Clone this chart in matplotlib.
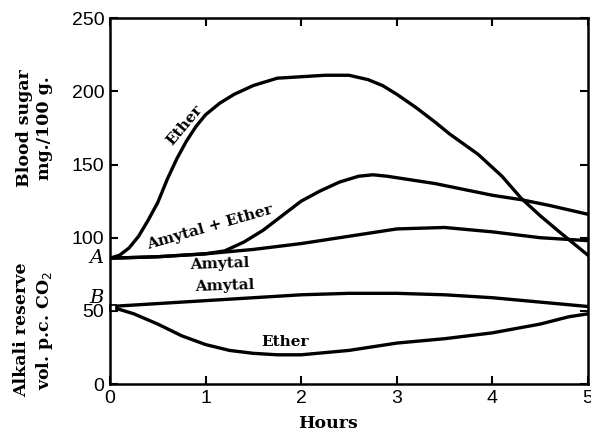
import matplotlib.pyplot as plt

# blood sugar curves (mg./100 g.)
ether_x = [0, 0.1, 0.2, 0.3, 0.4, 0.5, 0.6, 0.7, 0.8, 0.9, 1.0, 1.15, 1.3, 1.5, 1.75, 2.0, 2.25, 2.5, 2.7, 2.85, 3.0, 3.2, 3.4, 3.55, 3.7, 3.85, 4.1, 4.3, 4.5, 4.7, 4.85, 5.0]
ether_y = [86, 88, 93, 101, 112, 124, 140, 154, 166, 176, 184, 192, 198, 204, 209, 210, 211, 211, 208, 204, 198, 189, 179, 171, 164, 157, 142, 127, 115, 104, 96, 88]

amyeth_x = [0, 0.5, 1.0, 1.2, 1.4, 1.6, 1.8, 2.0, 2.2, 2.4, 2.6, 2.75, 2.9, 3.1, 3.4, 3.7, 4.0, 4.3, 4.6, 5.0]
amyeth_y = [86, 87, 89, 91, 97, 105, 115, 125, 132, 138, 142, 143, 142, 140, 137, 133, 129, 126, 122, 116]

amytal_x = [0, 0.5, 1.0, 1.5, 2.0, 2.5, 3.0, 3.5, 4.0, 4.5, 5.0]
amytal_y = [86, 87, 89, 92, 96, 101, 106, 107, 104, 100, 98]

# alkali reserve curves (vol. p.c. CO2)
alk_amytal_x = [0, 0.5, 1.0, 1.5, 2.0, 2.5, 3.0, 3.5, 4.0, 4.5, 5.0]
alk_amytal_y = [53, 55, 57, 59, 61, 62, 62, 61, 59, 56, 53]

alk_ether_x = [0, 0.25, 0.5, 0.75, 1.0, 1.25, 1.5, 1.75, 2.0, 2.5, 3.0, 3.5, 4.0, 4.5, 4.8, 5.0]
alk_ether_y = [53, 48, 41, 33, 27, 23, 21, 20, 20, 23, 28, 31, 35, 41, 46, 48]

serif = 'DejaVu Serif'

fig = plt.figure(figsize=(5.91, 4.33), dpi=100)
ax = fig.add_axes([0.186, 0.113, 0.809, 0.845])

lw = 2.4
for xs, ys in [(ether_x, ether_y), (amyeth_x, amyeth_y), (amytal_x, amytal_y),
               (alk_amytal_x, alk_amytal_y), (alk_ether_x, alk_ether_y)]:
    ax.plot(xs, ys, color='black', lw=lw, solid_capstyle='round', solid_joinstyle='round')

ax.plot([0.03], [52], marker='s', ms=4, mfc='white', mec='black', mew=1.2, clip_on=False)

ax.set_xlim(0, 5)
ax.set_ylim(0, 250)
ax.set_xticks(range(6))
ax.set_yticks(range(0, 251, 50))
ax.tick_params(direction='in', length=6, width=1.5, labelsize=14, top=True, right=True, pad=4)
for lab in ax.get_xticklabels() + ax.get_yticklabels():
    lab.set_family('Liberation Sans')
for s in ax.spines.values():
    s.set_linewidth(1.8)

# curve labels
tk = dict(family=serif, weight='bold', fontsize=11, ha='center', va='center', rotation_mode='anchor')
ax.text(0.78, 177, 'Ether', rotation=50, **tk)
ax.text(1.05, 107, 'Amytal + Ether', rotation=16, **tk)
ax.text(1.15, 82, 'Amytal', rotation=2, **tk)
ax.text(1.2, 67, 'Amytal', rotation=2, **tk)
ax.text(1.83, 29, 'Ether', rotation=0, **tk)

ax.text(-0.14, 86, 'A', family=serif, style='italic', fontsize=14, ha='center', va='center', clip_on=False)
ax.text(-0.14, 59, 'B', family=serif, style='italic', fontsize=14, ha='center', va='center', clip_on=False)

# axis labels
yl = dict(family=serif, weight='bold', fontsize=12.5, ha='center', va='center', rotation=90, linespacing=1.25)
fig.text(0.058, 1 - 128 / 433, 'Blood sugar\nmg./100 g.', **yl)
fig.text(0.058, 1 - 330 / 433, 'Alkali reserve\nvol. p.c. CO$_2$', **yl)
fig.text(328 / 591, 1 - 424 / 433, 'Hours', family=serif, weight='bold', fontsize=12.5, ha='center', va='center')

fig.savefig('out.png', dpi=100)
